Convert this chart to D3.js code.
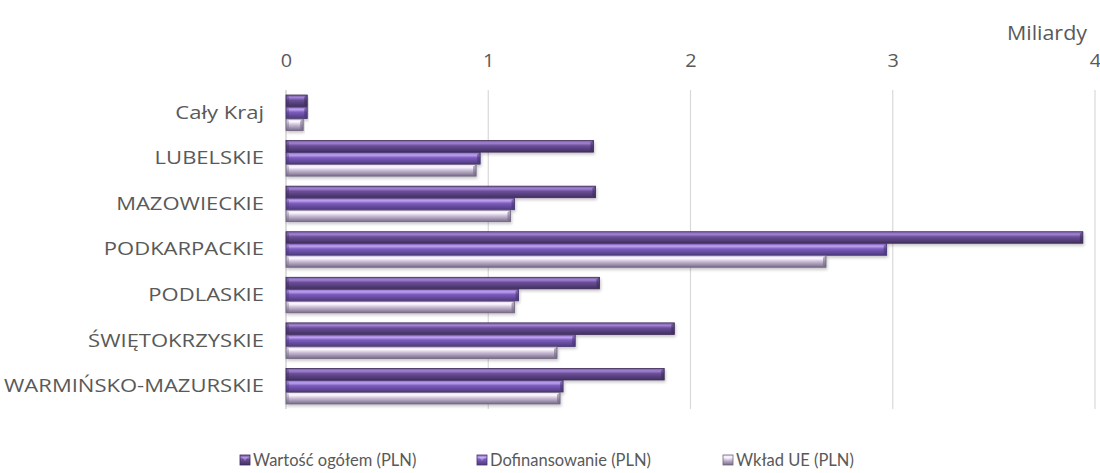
<!DOCTYPE html>
<html><head><meta charset="utf-8">
<script src="https://cdn.jsdelivr.net/npm/d3@7/dist/d3.min.js"></script>
<style>
body{margin:0;background:#fff;}
svg{display:block;font-family:"Open Sans", Lato, sans-serif;}
</style></head>
<body><svg id="c" width="1100" height="473"></svg>
<script>
const categories = ["Cały Kraj","LUBELSKIE","MAZOWIECKIE","PODKARPACKIE","PODLASKIE","ŚWIĘTOKRZYSKIE","WARMIŃSKO-MAZURSKIE"];
const seriesNames = ["Wartość ogółem (PLN)","Dofinansowanie (PLN)","Wkład UE (PLN)"];
const wartosc = [0.105, 1.52, 1.53, 3.94, 1.55, 1.92, 1.87];
const dofinansowanie = [0.105, 0.96, 1.13, 2.97, 1.15, 1.43, 1.37];
const wkladUE = [0.085, 0.94, 1.11, 2.67, 1.13, 1.34, 1.355];
const xTicks = [0,1,2,3,4];
const unitLabel = "Miliardy";

const series = [wartosc, dofinansowanie, wkladUE];
const svg = d3.select("#c");
const defs = svg.append("defs");
const grads = [
  [["0","#7a5aa8"],["0.22","#a184d2"],["0.45","#6a4e99"],["1","#43305f"]],
  [["0","#8c6bc6"],["0.22","#bfa2ef"],["0.45","#7c5cbf"],["1","#4e3a7c"]],
  [["0","#e4d8f2"],["0.22","#fdf9ff"],["0.5","#c9bdd6"],["1","#776a88"]]
];
const strokes = ["#3b2b57","#45336f","#6f6480"];
grads.forEach((g,i)=>{
  const lg = defs.append("linearGradient").attr("id","g"+i).attr("x1",0).attr("y1",0).attr("x2",0).attr("y2",1);
  g.forEach(s=>lg.append("stop").attr("offset",s[0]).attr("stop-color",s[1]));
});
const f = defs.append("filter").attr("id","sh").attr("x","-5%").attr("y","-30%").attr("width","110%").attr("height","180%");
f.append("feDropShadow").attr("dx",1).attr("dy",2).attr("stdDeviation",1.5).attr("flood-color","#000").attr("flood-opacity",0.22);

const x = d3.scaleLinear().domain([0,4]).range([286,1095]);
const y = d3.scaleBand().domain(categories).range([90,409]).paddingInner(0.22).paddingOuter(0.11);
const ySub = d3.scaleBand().domain([0,1,2]).range([0,y.bandwidth()]).paddingInner(0.04);

// gridlines
svg.append("g").selectAll("line").data(xTicks.slice(1)).join("line")
  .attr("x1",d=>x(d)).attr("x2",d=>x(d)).attr("y1",90).attr("y2",409)
  .attr("stroke","#d9d9d9").attr("stroke-width",1.2);
svg.append("line").attr("x1",x(0)).attr("x2",x(0)).attr("y1",90).attr("y2",409)
  .attr("stroke","#c8c8c8").attr("stroke-width",1.2);

// top axis labels
const ax = d3.axisTop(x).tickValues(xTicks).tickFormat(d3.format("d")).tickSize(0).tickPadding(0);
const axG = svg.append("g").attr("transform","translate(0,67)").call(ax);
axG.select(".domain").remove();
axG.selectAll("text").attr("fill","#595959").attr("font-size","18px").attr("font-family","'Open Sans', Lato, sans-serif")
  .attr("text-anchor",d=>d===4?"end":"middle").attr("dx",d=>d===4?"5":"0")
  .attr("transform","scale(1.1,1)");

svg.append("text").attr("transform","translate(1087,40) scale(1.1,1)").attr("text-anchor","end")
  .attr("fill","#595959").attr("font-size","19.5px").text(unitLabel);

// category labels
const yAx = d3.axisLeft(y).tickSize(0).tickPadding(0);
const yG = svg.append("g").attr("transform","translate(264,0)").call(yAx);
yG.select(".domain").remove();
yG.selectAll("text").attr("fill","#595959").attr("font-size","18.5px").attr("font-family","'Open Sans', Lato, sans-serif")
  .attr("transform","scale(1.19,1)");

// bars
series.forEach((vals,si)=>{
  const g = svg.append("g");
  const grp = g.selectAll("g").data(categories.map((c,i)=>({c,v:vals[i]}))).join("g")
    .attr("transform",d=>`translate(0,${y(d.c)+ySub(si)})`);
  const h = ySub.bandwidth();
  grp.append("rect").attr("x",x(0)).attr("y",0).attr("width",d=>x(d.v)-x(0)).attr("height",h)
    .attr("fill",`url(#g${si})`).attr("stroke",strokes[si]).attr("stroke-width",0.8).attr("filter","url(#sh)");
  grp.append("path").attr("d",d=>{
    const xe = x(d.v); return `M${xe-3},${2} L${xe},0 L${xe},${h} L${xe-3},${h-2} Z`;
  }).attr("fill",strokes[si]).attr("opacity",0.55);
  grp.append("path").attr("d",()=>{
    const xs = x(0); return `M${xs},0 L${xs+3},2 L${xs+3},${h-2} L${xs},${h} Z`;
  }).attr("fill",strokes[si]).attr("opacity",0.35);
});

// legend
const legX = [240, 477, 723];
const lg = svg.append("g");
seriesNames.forEach((n,i)=>{
  const gg = lg.append("g").attr("transform",`translate(${legX[i]},455)`);
  gg.append("rect").attr("x",0).attr("y",0).attr("width",10).attr("height",10)
    .attr("fill",`url(#g${i})`).attr("stroke",strokes[i]).attr("stroke-width",0.8);
  gg.append("path").attr("d","M2,2 L8,2 L5,6 Z").attr("fill","#fff").attr("opacity",0.25);
  gg.append("text").attr("x",13).attr("y",11).attr("fill","#595959").attr("font-size","16.5px")
    .attr("font-family","Lato, 'Open Sans', sans-serif").text(n);
});
</script></body></html>
